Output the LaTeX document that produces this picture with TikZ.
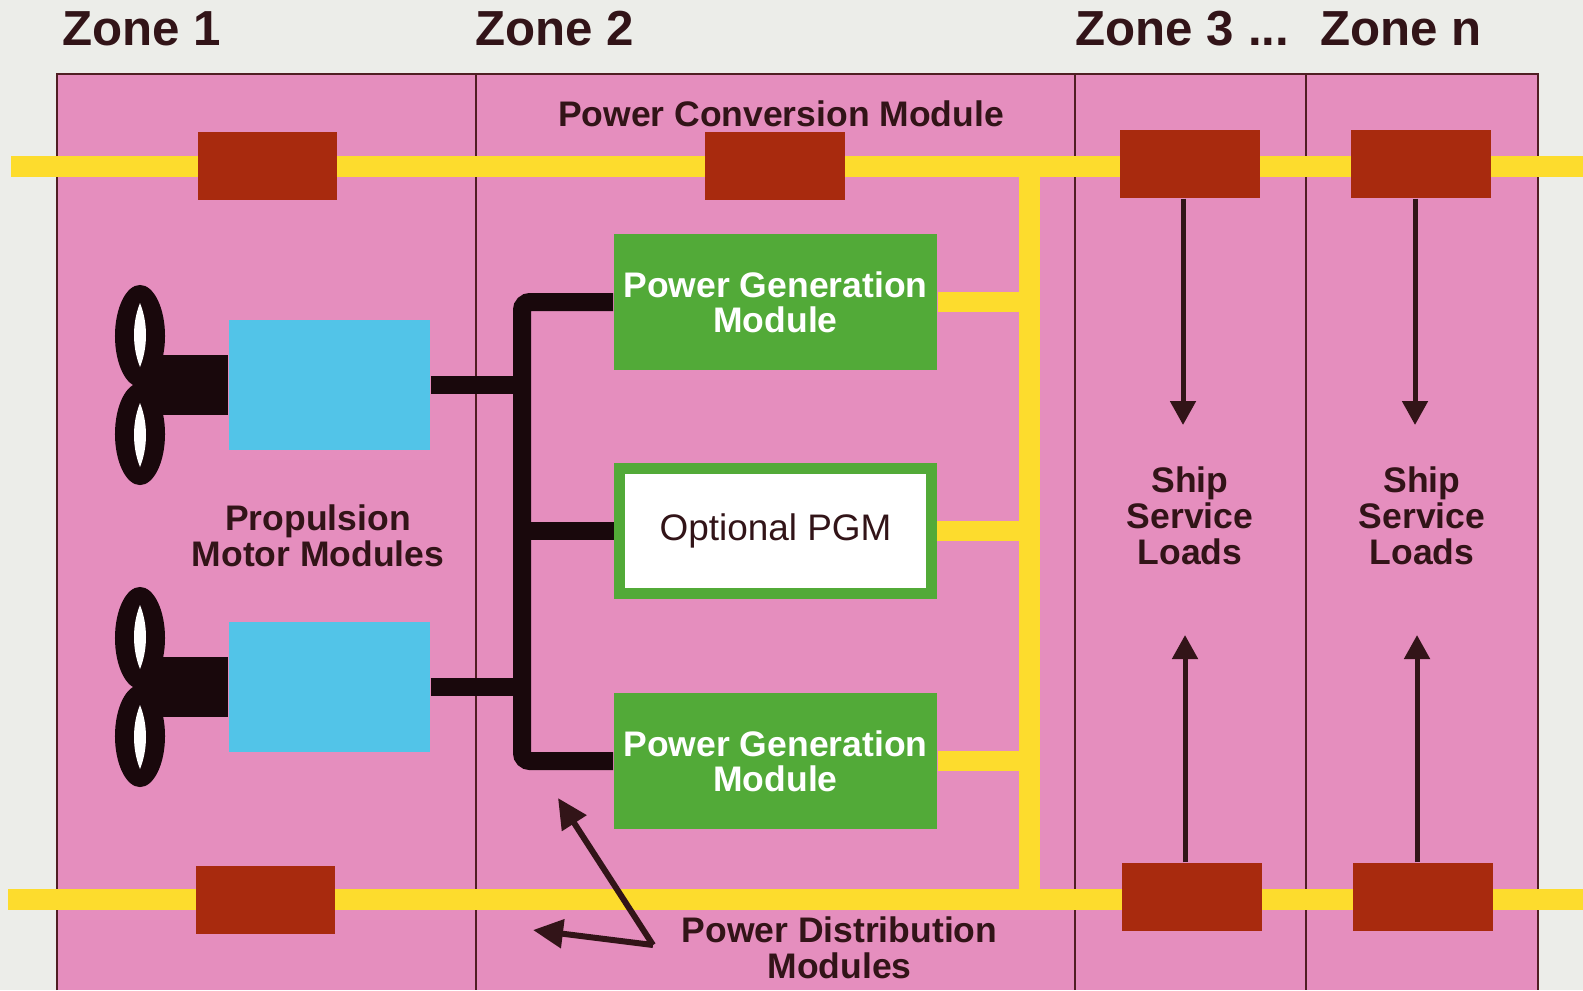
\documentclass[tikz,border=0pt]{standalone}
\usepackage{fontspec}
\setmainfont{Liberation Sans}
\usetikzlibrary{arrows.meta,calc}
\definecolor{bgc}{RGB}{236,237,233}
\definecolor{pinkc}{RGB}{229,142,190}
\definecolor{yelc}{RGB}{253,220,45}
\definecolor{redc}{RGB}{168,42,14}
\definecolor{grnc}{RGB}{82,170,56}
\definecolor{bluc}{RGB}{82,196,232}
\definecolor{inkc}{RGB}{50,20,24}
\definecolor{linec}{RGB}{80,30,35}
\definecolor{busc}{RGB}{25,8,12}
\begin{document}
\begin{tikzpicture}[x=0.01cm,y=-0.01cm,
  redbox/.style={fill=redc, minimum width=1.39cm, minimum height=0.68cm, inner sep=0},
  pgm/.style={fill=grnc, minimum width=3.23cm, minimum height=1.36cm, inner sep=0, text=white,
    font=\bfseries\fontsize{10.1}{10}\selectfont, align=center},
  optpgm/.style={fill=white, draw=grnc, line width=0.11cm, minimum width=3.12cm, minimum height=1.25cm,
    inner sep=0, text=inkc, font=\fontsize{10.5}{10}\selectfont},
  motor/.style={fill=bluc, minimum width=2.01cm, minimum height=1.30cm, inner sep=0},
  lbl/.style={text=inkc, font=\bfseries\fontsize{10.1}{10.2}\selectfont, align=center, inner sep=0},
  zone/.style={text=inkc, font=\bfseries\fontsize{14}{14}\selectfont, inner sep=0, anchor=base west},
  ybus/.style={yelc, line width=0.21cm},
  bbus/.style={busc, line width=0.18cm},
  sarrow/.style={inkc, line width=0.05cm, -{Triangle[length=0.24cm,width=0.25cm]}},
  parrow/.style={inkc, line width=0.06cm, -{Triangle[length=0.3cm,width=0.28cm]}},
  divider/.style={linec, line width=0.02cm}]
% background and panel
\fill[bgc] (0,0) rectangle (1583,990);
\useasboundingbox (0,0) rectangle (1583,990);
\fill[pinkc] (57,74) rectangle (1538,990);
\draw[divider] (57,990) -- (57,74) -- (1538,74) -- (1538,990);
\draw[divider] (476,74) -- (476,990);
\draw[divider] (1075,74) -- (1075,990);
\draw[divider] (1306,74) -- (1306,990);
% zone labels
\node[zone] (z1) at (62,45) {Zone 1};
\node[zone] (z2) at (475,45) {Zone 2};
\node[zone] (z3) at (1075,45) {Zone 3 ...};
\node[zone] (zn) at (1320,45) {Zone n};
% bus coordinates
\coordinate (tl) at (11,166);
\coordinate (tr) at (1583,166);
\coordinate (bl) at (8,899);
\coordinate (br) at (1583,899);
\coordinate (vt) at (1029,166);
\coordinate (vb) at (1029,899);
% yellow buses
\draw[ybus] (tl) -- (tr);
\draw[ybus] (bl) -- (br);
\draw[ybus, line cap=rect] (vt) -- (vb);
% PGM boxes
\node[pgm] (g1) at (775.5,302) {Power Generation\\Module};
\node[optpgm] (g0) at (775.5,531) {Optional PGM};
\node[pgm] (g2) at (775.5,761) {Power Generation\\Module};
\draw[ybus, line width=0.2cm] (g1.east) -- (g1.east -| vt);
\draw[ybus, line width=0.2cm] (g0.east) -- (g0.east -| vt);
\draw[ybus, line width=0.2cm] (g2.east) -- (g2.east -| vt);
% red boxes
\node[redbox] (r1) at (267.5,166) {};
\node[redbox] (r2) at (775,166) {};
\node[redbox] (r3) at (1190,164) {};
\node[redbox] (r4) at (1421,164) {};
\node[redbox] (r5) at (265.5,900) {};
\node[redbox] (r6) at (1192,897) {};
\node[redbox] (r7) at (1423,897) {};
% motors
\node[motor] (b1) at (329.5,385) {};
\node[motor] (b2) at (329.5,687) {};
% black bus
\coordinate (jt) at (522,302);
\coordinate (jm) at (522,531);
\coordinate (jb) at (522,761);
\draw[bbus, rounded corners=0.08cm] (g1.west) -- (jt) -- (jb) -- (g2.west);
\draw[bbus] (jm) -- (g0.west);
\draw[bbus] (b1.east) -- (b1.east -| jt);
\draw[bbus] (b2.east) -- (b2.east -| jb);
% propellers
\coordinate (p1) at (140,385);
\coordinate (p2) at (140,687);
\draw[busc, line width=0.6cm] (p1) -- (b1.west);
\draw[busc, line width=0.6cm] (p2) -- (b2.west);
\foreach \p in {p1,p2} {
  \fill[busc] ([yshift=0.49cm]\p) ellipse [x radius=0.25cm, y radius=0.51cm];
  \fill[busc] ([yshift=-0.49cm]\p) ellipse [x radius=0.25cm, y radius=0.51cm];
  \foreach \s in {-50,50} {
    \fill[white] ($(\p)+(0,\s-32)$) .. controls ($(\p)+(8,\s-12)$) and ($(\p)+(8,\s+12)$) .. ($(\p)+(0,\s+32)$)
      .. controls ($(\p)+(-8,\s+12)$) and ($(\p)+(-8,\s-12)$) .. cycle;
  }
}
% labels
\node[lbl, anchor=base] (pcm) at (781,126) {Power Conversion Module};
\node[lbl] (pmm) at (318,536) {Propulsion\\Motor Modules};
\node[lbl] (ssl3) at (1190,516) {Ship\\Service\\Loads};
\node[lbl] (ssln) at (1422,516) {Ship\\Service\\Loads};
\node[lbl] (pdm) at (839.5,948) {Power Distribution\\Modules};
% ship service arrows
\coordinate (t3a) at (1183,425);
\coordinate (t3b) at (1185,635);
\coordinate (tna) at (1415,425);
\coordinate (tnb) at (1417,635);
\draw[sarrow] (r3.south -| t3a) -- (t3a);
\draw[sarrow] (r6.north -| t3b) -- (t3b);
\draw[sarrow] (r4.south -| tna) -- (tna);
\draw[sarrow] (r7.north -| tnb) -- (tnb);
% power distribution arrows
\coordinate (pdj) at (653,945);
\coordinate (pda) at (558,798);
\coordinate (pdb) at (533,930);
\draw[parrow] (pdj) -- (pda);
\draw[parrow] (pdj) -- (pdb);
\end{tikzpicture}
\end{document}
